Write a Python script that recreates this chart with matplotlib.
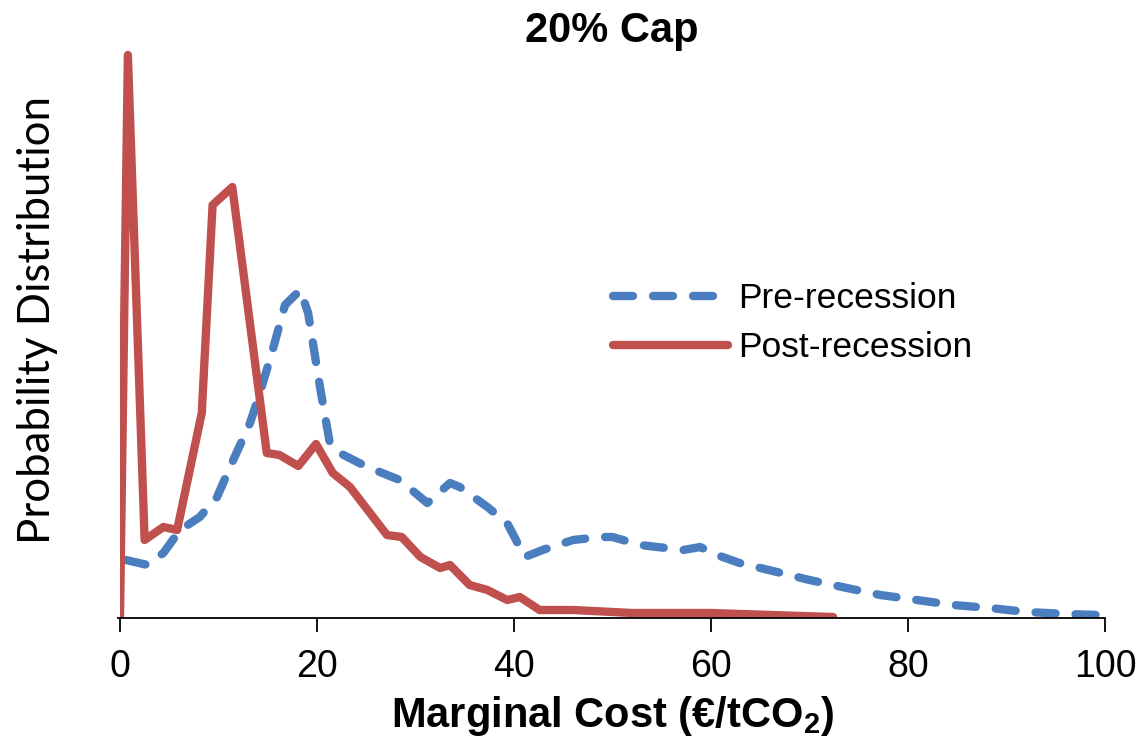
import matplotlib
matplotlib.use("Agg")
import matplotlib.pyplot as plt

# Data (x in €/tCO2, y in arbitrary density units)
pre_x = [0.6, 2.8, 4.4, 6.1, 8.1, 9.85, 11.5, 13.2, 14.2, 15.5, 16.75, 18.3, 19.1, 20.3,
         21.3, 22.3, 25.1, 28.4, 31.2, 33.5, 34.5, 37.3, 39.3, 41.1, 42.9, 46.0, 48.7,
         50.0, 52.8, 57.2, 58.9, 60.6, 62.9, 66.7, 70.0, 73.8, 77.2, 80.9, 84.6, 88.3,
         92.1, 96.1, 99.5]
pre_y = [58, 53, 65, 88, 101, 121, 158, 195, 225, 268, 313, 328, 305, 231,
         175, 165, 151, 138, 115, 135, 131, 111, 95, 61, 68, 78, 81,
         81, 73, 68, 71, 63, 55, 46, 38, 30, 23, 18, 13, 10,
         6, 4, 3]

post_x = [0.0, 0.8, 2.5, 4.4, 5.8, 8.3, 9.4, 11.4, 14.9, 16.2, 18.1, 19.9, 21.6, 23.35,
          27.1, 28.6, 30.5, 32.5, 33.5, 35.5, 37.3, 39.3, 40.6, 42.6, 46.0, 52.0, 59.9, 72.4]
post_y = [0, 563, 78, 91, 88, 205, 413, 431, 165, 163, 152, 174, 145, 131,
          83, 81, 61, 50, 53, 33, 28, 18, 21, 8, 8, 5, 5, 1]

xticks = [0, 20, 40, 60, 80, 100]
labels = ["Pre-recession", "Post-recession"]

plt.rcParams['mathtext.fontset'] = 'custom'
plt.rcParams['mathtext.bf'] = 'Liberation Sans:bold'
plt.rcParams['mathtext.rm'] = 'Liberation Sans:bold'

W, H = 1145, 754
fig = plt.figure(figsize=(W / 100, H / 100), dpi=100)
ax = fig.add_axes([120 / W, 1 - 618 / H, (1105 - 120) / W, 580 / H])

blue = "#4A7EBF"
red = "#C0504D"
lw = 6.0
ax.plot(pre_x, pre_y, color=blue, lw=lw, linestyle=(0, (2.4, 2.4)),
        dash_capstyle='round', solid_joinstyle='round', label=labels[0])
ax.plot(post_x, post_y, color=red, lw=lw, solid_capstyle='round',
        solid_joinstyle='round', label=labels[1])

ax.set_xlim(0, 100)
ax.set_ylim(0, 580)
ax.set_xticks(xticks)
ax.set_xticklabels([str(t) for t in xticks], family='Liberation Sans', fontsize=27)
ax.set_yticks([])
for s in ['left', 'right', 'top']:
    ax.spines[s].set_visible(False)
ax.spines['bottom'].set_linewidth(1.3)
ax.spines['bottom'].set_bounds(-0.2, 100)
ax.tick_params(axis='x', direction='out', length=10, width=1.3, pad=12, colors='black')

ax.set_xlabel(r'Marginal Cost (€/tCO$_\mathbf{2}$)', family='Liberation Sans',
              fontweight='bold', fontsize=30, labelpad=7)

fig.text(612 / W, 1 - 31 / H, '20% Cap', family='Liberation Sans', fontweight='bold',
         fontsize=30, ha='center', va='center')

fig.text(38 / W, 1 - 320 / H, 'Probability Distribution', rotation=90, family='Lato',
         fontsize=31.5, ha='center', va='center')

leg = ax.legend(loc='upper left', bbox_to_anchor=((613 - 120) / 985, 1 - (282 - 38) / 580),
                frameon=False, prop={'family': 'Liberation Sans', 'size': 25.5},
                handlelength=3.25, handletextpad=0.28, labelspacing=0.46,
                borderpad=0, borderaxespad=0)

fig.savefig('out.png', dpi=100)
